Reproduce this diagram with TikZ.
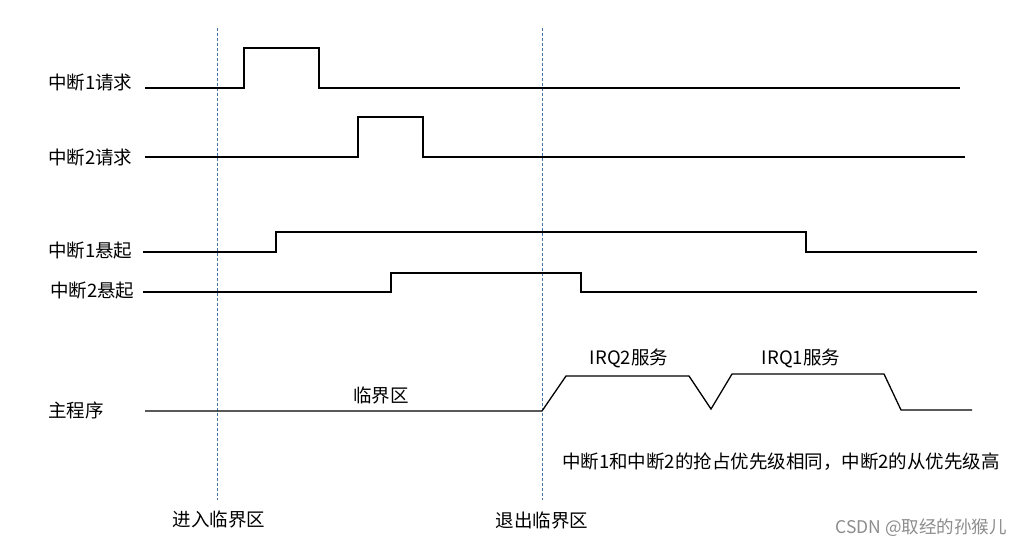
\documentclass[tikz,border=0pt]{standalone}
\usepackage{fontspec}
\setmainfont{Noto Sans CJK SC}
\definecolor{guideblue}{RGB}{68,114,164}
\usetikzlibrary{positioning}

\begin{document}
\begin{tikzpicture}[x=1pt,y=-1pt,
  lbl/.style={anchor=west,inner sep=0pt,font=\fontsize{18.5}{21}\selectfont},
  txt/.style={inner sep=0pt,font=\fontsize{18.5}{21}\selectfont},
  wave/.style={line width=1.3pt,black},
  guide/.style={guideblue,line width=0.9pt,dash pattern=on 3pt off 2pt}]
  \useasboundingbox (0,0) rectangle (1032,551);
  % signal names
  \node[lbl] (req1) at (48,82) {中断1请求};
  \node[lbl] (req2) at (48,157) {中断2请求};
  \node[lbl] (pend1) at (48,251) {中断1悬起};
  \node[lbl] (pend2) at (50,291) {中断2悬起};
  \node[lbl] (main) at (48,410) {主程序};
  % critical section marks
  \coordinate (enter) at (217,28);
  \coordinate (leave) at (542,28);
  \draw[guide] (enter) -- ++(0,472);
  \draw[guide] (leave) -- ++(0,472);
  \node[txt] (entertxt) at (219,519) {进入临界区};
  \node[txt] (leavetxt) at (542,520) {退出临界区};
  % waveforms
  \draw[wave] (145,88) -- (244,88) -- (244,48) -- (319,48) -- (319,88) -- (960,88);
  \draw[wave] (145,157) -- (358,157) -- (358,117) -- (423,117) -- (423,157) -- (965,157);
  \draw[wave] (143,252) -- (276,252) -- (276,232) -- (806,232) -- (806,252) -- (977,252);
  \draw[wave] (143,292) -- (391,292) -- (391,273) -- (581,273) -- (581,292) -- (977,292);
  \draw[wave] (145,411) -- (542,411) -- (566,376) -- (689,376) -- (711,409) -- (732,374)
    -- (884,374) -- (901,410) -- (972,410);
  \node[txt] (crit) at (381,395) {临界区};
  \node[txt] (irq2) at (629,358) {IRQ2服务};
  \node[txt] (irq1) at (801,358) {IRQ1服务};
  \node[txt] (note) at (781,462) {中断1和中断2的抢占优先级相同，中断2的从优先级高};
  \node[txt,text=black!45,font=\fontsize{17.5}{20}\selectfont] (mark) at (921,528) {CSDN @取经的孙猴儿};
\end{tikzpicture}
\end{document}
